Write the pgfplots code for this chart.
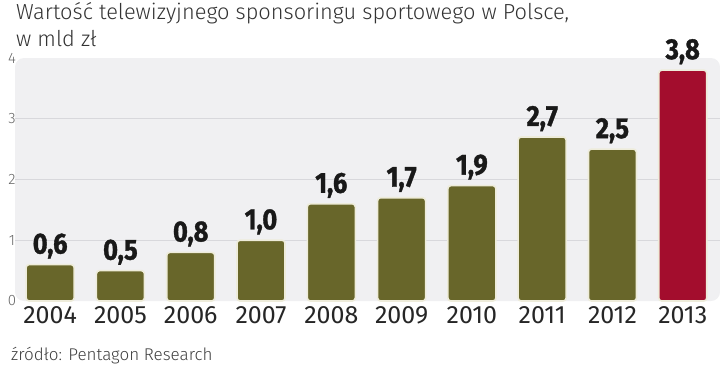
\documentclass[border=0pt]{standalone}
\usepackage{fontspec}
\setmainfont{Fira Sans}[UprightFont=* Light, BoldFont=* Bold]
\newfontfamily\regfont{Fira Sans}
\newfontfamily\boldcond{Fira Sans}[UprightFont=* Bold, FakeStretch=0.88, FakeBold=1.2]
\usepackage{pgfplots}
\pgfplotsset{compat=1.18}
\definecolor{olive}{HTML}{68662A}
\definecolor{redbar}{HTML}{A30D2D}
\definecolor{panel}{HTML}{F0F0F2}
\definecolor{gridc}{HTML}{D8D8DC}
\definecolor{edge}{HTML}{EEECDA}
\begin{document}
\begin{tikzpicture}[x=1pt,y=1pt]
\path[use as bounding box] (0,0) rectangle (720,365);
\node[anchor=base west, inner sep=0, font=\fontsize{21.8}{24}\selectfont, text=black!80] at (16,345) {Wartość telewizyjnego sponsoringu sportowego w Polsce,};
\node[anchor=base west, inner sep=0, font=\fontsize{21.8}{24}\selectfont, text=black!80] at (16,318) {w mld zł};
\node[anchor=base west, inner sep=0, font=\fontsize{17}{20}\selectfont, text=black!75] at (11,5) {źródło: Pentagon Research};
\begin{axis}[
  at={(15pt,64pt)}, anchor=south west,
  scale only axis, width=705pt, height=243pt,
  xmin=-0.5, xmax=9.53, ymin=0, ymax=4,
  axis line style={draw=none},
  major tick length=0pt,
  axis background/.style={fill=panel, rounded corners=9pt},
  xtick={0,...,9},
  xticklabels={2004,2005,2006,2007,2008,2009,2010,2011,2012,2013},
  xticklabel style={font=\regfont\fontsize{25}{28}\selectfont, text=black!85, anchor=north, yshift=-2pt},
  ytick={0,1,2,3,4},
  yticklabel style={font=\fontsize{15}{18}\selectfont, text=black!60, anchor=center, xshift=-3pt},
  /pgf/number format/assume math mode=true,
  extra y ticks={1,2,3},
  extra y tick labels={},
  extra y tick style={ymajorgrids=true},
  grid style={gridc, line width=0.8pt},
  ybar, bar width=48pt,
  nodes near coords,
  nodes near coords style={font=\boldcond\fontsize{29}{32}\selectfont, text=black!90, anchor=base, yshift=11pt,
    /pgf/number format/.cd, fixed, fixed zerofill, precision=1, use comma},
  clip=false,
]
\addplot[bar shift=0pt, fill=olive, draw=edge, line width=1.6pt, rounded corners=3pt]
  coordinates {(0,0.6) (1,0.5) (2,0.8) (3,1.0) (4,1.6) (5,1.7) (6,1.9) (7,2.7) (8,2.5)};
\addplot[bar shift=0pt, fill=redbar, draw=edge, line width=1.6pt, rounded corners=3pt]
  coordinates {(9,3.8)};
\end{axis}
\end{tikzpicture}
\end{document}
